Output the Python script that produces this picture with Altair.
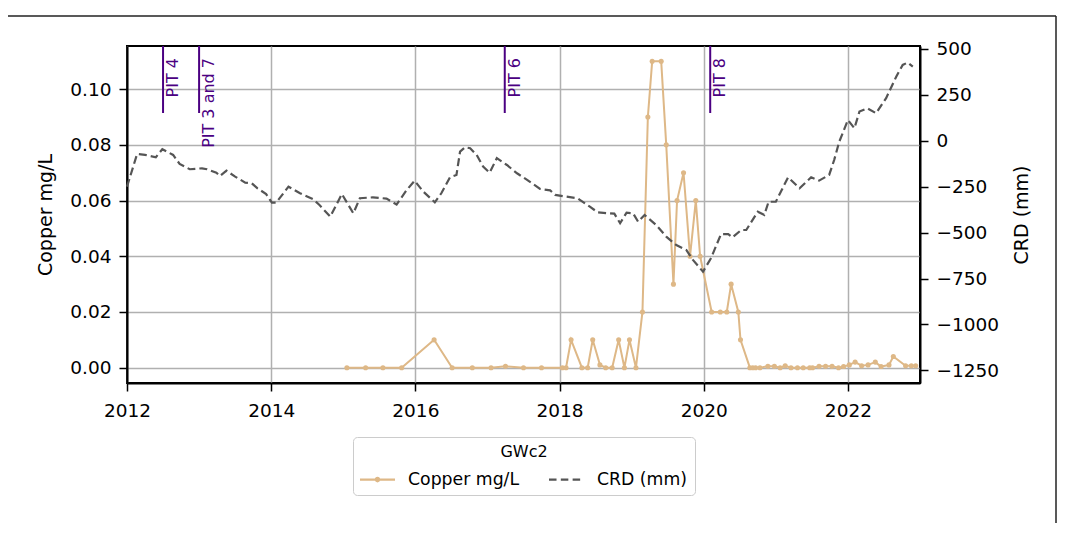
import altair as alt
import pandas as pd

# ---------------- data ----------------
copper_year = [2015.05, 2015.31, 2015.55, 2015.81, 2016.26, 2016.51, 2016.79, 2017.05, 2017.25, 2017.50,
               2017.75, 2018.04, 2018.09, 2018.16, 2018.31, 2018.39, 2018.46, 2018.56, 2018.64, 2018.73,
               2018.82, 2018.90, 2018.97, 2019.06, 2019.15, 2019.225, 2019.285, 2019.41, 2019.48, 2019.58,
               2019.63, 2019.72, 2019.81, 2019.89, 2019.95, 2020.11, 2020.23, 2020.32, 2020.38, 2020.48,
               2020.51, 2020.64, 2020.68, 2020.72, 2020.78, 2020.89, 2020.98, 2021.06, 2021.13, 2021.21,
               2021.30, 2021.38, 2021.47, 2021.51, 2021.60, 2021.69, 2021.78, 2021.87, 2021.94, 2022.02,
               2022.10, 2022.19, 2022.28, 2022.38, 2022.46, 2022.57, 2022.63, 2022.80, 2022.88, 2022.94]
copper_mg_l = [0.0, 0.0, 0.0, 0.0, 0.010, 0.0, 0.0, 0.0, 0.0005, 0.0,
               0.0, 0.0, 0.0, 0.010, 0.0, 0.0, 0.010, 0.001, 0.0, 0.0,
               0.010, 0.0, 0.010, 0.0, 0.020, 0.090, 0.110, 0.110, 0.080, 0.030,
               0.060, 0.070, 0.040, 0.060, 0.040, 0.020, 0.020, 0.020, 0.030, 0.020,
               0.010, 0.0, 0.0, 0.0, 0.0, 0.0005, 0.0005, 0.0, 0.0007, 0.0,
               0.0, 0.0, 0.0, 0.0, 0.0005, 0.0005, 0.0005, 0.0, 0.0004, 0.001,
               0.002, 0.0007, 0.001, 0.002, 0.0004, 0.001, 0.004, 0.0007, 0.0007, 0.0007]

crd_year = [2012.00, 2012.14, 2012.25, 2012.40, 2012.49, 2012.64, 2012.73, 2012.87, 2013.04, 2013.11,
            2013.24, 2013.29, 2013.38, 2013.50, 2013.64, 2013.73, 2013.81, 2013.93, 2014.01, 2014.07,
            2014.24, 2014.40, 2014.58, 2014.67, 2014.82, 2014.98, 2015.14, 2015.23, 2015.41, 2015.60,
            2015.74, 2015.88, 2015.99, 2016.11, 2016.27, 2016.36, 2016.48, 2016.57, 2016.62, 2016.69,
            2016.76, 2016.85, 2016.94, 2017.03, 2017.13, 2017.27, 2017.41, 2017.55, 2017.73, 2017.87,
            2017.94, 2018.09, 2018.25, 2018.42, 2018.53, 2018.76, 2018.84, 2018.93, 2019.02, 2019.09,
            2019.18, 2019.34, 2019.48, 2019.62, 2019.76, 2019.85, 2019.99, 2020.10, 2020.24, 2020.34,
            2020.40, 2020.52, 2020.59, 2020.75, 2020.84, 2020.90, 2021.00, 2021.17, 2021.33, 2021.49,
            2021.60, 2021.74, 2021.81, 2021.88, 2022.00, 2022.09, 2022.16, 2022.27, 2022.39, 2022.53,
            2022.67, 2022.76, 2022.83, 2022.90]
crd_mm = [-250, -72, -77, -90, -46, -77, -126, -155, -150, -155,
          -174, -192, -163, -195, -228, -231, -259, -290, -337, -337,
          -250, -286, -318, -350, -413, -290, -395, -313, -308, -315,
          -347, -268, -218, -277, -335, -286, -199, -186, -59, -35,
          -41, -77, -141, -174, -95, -132, -177, -213, -262, -270,
          -295, -304, -313, -359, -390, -397, -449, -391, -395, -441,
          -404, -459, -522, -568, -595, -649, -713, -640, -508, -508,
          -526, -486, -486, -386, -404, -332, -332, -199, -259, -199,
          -217, -186, -104, -5, 113, 68, 159, 177, 150, 232,
          349, 413, 426, 404]

pit_year = [2012.5, 2013.0, 2017.24, 2020.09]
pit_label = ["PIT 4", "PIT 3 and 7", "PIT 6", "PIT 8"]

series_names = ["Copper mg/L", "CRD (mm)"]
x_ticks = [2012, 2014, 2016, 2018, 2020, 2022]
copper_ticks = [0.0, 0.02, 0.04, 0.06, 0.08, 0.10]
crd_ticks = [-1250, -1000, -750, -500, -250, 0, 250, 500]

# ---------------- style ----------------
FONT = "DejaVu Sans"
COPPER = "#DEB887"
CRDC = "#555555"
PITC = "#4B0082"
W, H = 793, 337
PAD_L, PAD_T, PAD_R, PAD_B = 119, 38, 137, 140

copper_df = pd.DataFrame({"year": copper_year, "copper": copper_mg_l})
crd_df = pd.DataFrame({"year": crd_year, "crd": crd_mm})
pit_df = pd.DataFrame({"year": pit_year, "label": pit_label})
legend_df = pd.DataFrame({"series": series_names})
one_df = pd.DataFrame({"k": [0]})

xscale = alt.Scale(domain=[2012, 2023], nice=False, zero=False)
xaxis = alt.Axis(values=x_ticks, format="d", title=None, grid=True, labelPadding=10,
                 labelFlush=False)

copper = alt.Chart(copper_df).mark_line(
    color=COPPER, strokeWidth=2,
    point=alt.OverlayMarkDef(filled=True, size=26, color=COPPER, opacity=1),
).encode(
    x=alt.X("year:Q", scale=xscale, axis=xaxis),
    y=alt.Y("copper:Q", scale=alt.Scale(domain=[-0.0055, 0.1155], nice=False, zero=False),
            axis=alt.Axis(values=copper_ticks, format=".2f", title="Copper mg/L", orient="left",
                          grid=True, titlePadding=14, labelPadding=8)),
)

crd = alt.Chart(crd_df).mark_line(color=CRDC, strokeWidth=2.2, strokeDash=[8, 4]).encode(
    x=alt.X("year:Q", scale=xscale, axis=xaxis),
    y=alt.Y("crd:Q", scale=alt.Scale(domain=[-1319, 516], nice=False, zero=False),
            axis=alt.Axis(values=crd_ticks, format="d", title="CRD (mm)", orient="right",
                          grid=False, titleAngle=270, titleBaseline="top",
                          titlePadding=14, labelPadding=8)),
)

pit_rule = alt.Chart(pit_df).mark_rule(color=PITC, strokeWidth=2).encode(
    x=alt.X("year:Q", scale=xscale, axis=xaxis),
    y=alt.value(0), y2=alt.value(67),
)
pit_text = alt.Chart(pit_df).mark_text(
    angle=270, align="right", baseline="top", fontSize=16, font=FONT, color=PITC, dy=2,
).encode(
    x=alt.X("year:Q", scale=xscale, axis=xaxis),
    y=alt.value(12),
    text="label:N",
)

path_copper = ("M-1,-0.06L-0.1,-0.06L-0.1,0.06L-1,0.06Z "
               "M0.1,-0.06L1,-0.06L1,0.06L0.1,0.06Z "
               "M0.16,0A0.16,0.16 0 1,1 -0.16,0A0.16,0.16 0 1,1 0.16,0Z")
path_crd = ("M-1,-0.065L-0.57,-0.065L-0.57,0.065L-1,0.065Z "
            "M-0.325,-0.065L0.105,-0.065L0.105,0.065L-0.325,0.065Z "
            "M0.35,-0.065L0.78,-0.065L0.78,0.065L0.35,0.065Z")

leg = alt.Legend(
    title="GWc2", orient="none", legendX=226, legendY=391, direction="horizontal",
    titleAnchor="middle", titleFont=FONT, titleFontSize=16, titleFontWeight="normal",
    titleColor="black", titlePadding=2,
    labelFont=FONT, labelFontSize=17.3, labelColor="black", labelOffset=13,
    symbolSize=1225, symbolStrokeWidth=0, columnPadding=29,
    padding=7, strokeColor="#cccccc", fillColor="white", cornerRadius=4,
)
legend_layer = alt.Chart(legend_df).mark_point(filled=True, opacity=1).encode(
    x=alt.value(-3000), y=alt.value(-3000),
    color=alt.Color("series:N", scale=alt.Scale(domain=series_names, range=[COPPER, CRDC]), legend=leg),
    shape=alt.Shape("series:N", scale=alt.Scale(domain=series_names, range=[path_copper, path_crd]), legend=leg),
)

frame_top = alt.Chart(one_df).mark_rule(color="#222222", strokeWidth=1.5).encode(
    x=alt.value(-121), x2=alt.value(W + PAD_R - 1), y=alt.value(-30))
frame_left = alt.Chart(one_df).mark_rule(color="#222222", strokeWidth=1.5).encode(
    x=alt.value(-121), y=alt.value(-30), y2=alt.value(H + PAD_B))
frame_right = alt.Chart(one_df).mark_rule(color="#222222", strokeWidth=1.5).encode(
    x=alt.value(W + PAD_R - 1), y=alt.value(-30), y2=alt.value(H + PAD_B))

chart = alt.layer(
    copper, crd, pit_rule, pit_text, legend_layer, frame_top, frame_left, frame_right
).resolve_scale(
    y="independent"
).properties(
    width=W, height=H,
    autosize=alt.AutoSizeParams(type="none"),
    padding={"left": PAD_L, "top": PAD_T, "right": PAD_R, "bottom": PAD_B},
    background="white",
).configure_view(
    stroke="black", strokeWidth=2,
).configure_axis(
    domainColor="black", domainWidth=2, tickColor="black", tickSize=8, tickWidth=1.5,
    labelFont=FONT, labelFontSize=18.5, labelColor="black",
    titleFont=FONT, titleFontSize=19, titleColor="black", titleFontWeight="normal",
    gridColor="#b0b0b0", gridWidth=1.5,
)

chart.save("out.html", embed_options={"renderer": "svg", "actions": False})
